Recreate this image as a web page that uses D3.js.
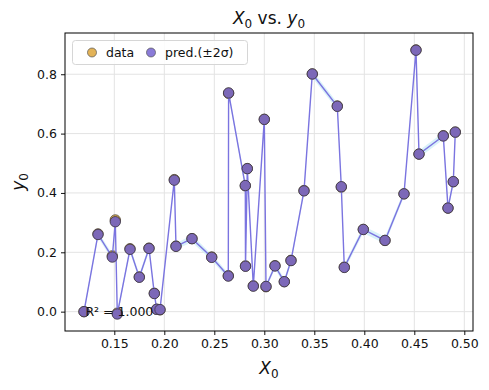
<!DOCTYPE html>
<html><head><meta charset="utf-8">
<script src="https://cdn.jsdelivr.net/npm/d3@7"></script>
<style>body{margin:0;background:#fff}svg{display:block;font-family:"DejaVu Sans",sans-serif}</style>
</head><body><svg id="c" width="489" height="390"></svg>
<script>
const xVals = [0.1197,0.1337,0.1480,0.1510,0.1530,0.1657,0.1750,0.1847,0.1900,0.1924,0.1957,0.2100,0.2117,0.2277,0.2474,0.2640,0.2643,0.2810,0.2812,0.2830,0.2890,0.3000,0.3017,0.3107,0.3200,0.3267,0.3397,0.3480,0.3730,0.3770,0.3800,0.3990,0.4207,0.4397,0.4517,0.4547,0.4790,0.4837,0.4890,0.4910];
const dataY = [0.000,0.262,0.188,0.309,-0.005,0.212,0.117,0.214,0.062,0.008,0.006,0.445,0.221,0.246,0.184,0.121,0.736,0.424,0.154,0.482,0.087,0.648,0.084,0.155,0.101,0.173,0.408,0.801,0.693,0.420,0.150,0.277,0.240,0.397,0.882,0.531,0.593,0.349,0.438,0.605];
const predY = [0.000,0.260,0.184,0.303,-0.008,0.210,0.116,0.213,0.061,0.008,0.007,0.443,0.220,0.246,0.183,0.120,0.737,0.425,0.153,0.482,0.086,0.648,0.085,0.154,0.101,0.172,0.407,0.801,0.692,0.421,0.149,0.277,0.240,0.397,0.881,0.531,0.592,0.349,0.438,0.605];
const predSigma = [0.004,0.005,0.005,0.005,0.005,0.005,0.005,0.005,0.004,0.004,0.004,0.005,0.005,0.006,0.005,0.005,0.005,0.005,0.005,0.005,0.004,0.005,0.004,0.005,0.005,0.005,0.005,0.006,0.006,0.005,0.005,0.006,0.006,0.005,0.005,0.006,0.006,0.005,0.005,0.005];
const xTicks = [0.15,0.20,0.25,0.30,0.35,0.40,0.45,0.50];
const yTicks = [0.0,0.2,0.4,0.6,0.8];
const r2Text = "R\u00B2 = 1.000";

const L=65,R=473,T=33,B=331;
const svg=d3.select("#c");
const x=d3.scaleLinear().domain([0.1007,0.5087]).range([L,R]);
const y=d3.scaleLinear().domain([-0.0652,0.9390]).range([B,T]);
const pts=xVals.map((v,i)=>({x:v,d:dataY[i],p:predY[i],s:predSigma[i]}));

// grid
const g=svg.append("g");
g.selectAll(".gx").data(xTicks).join("line").attr("x1",d=>x(d)).attr("x2",d=>x(d)).attr("y1",T).attr("y2",B).attr("stroke","#e3e3e3").attr("stroke-width",1);
g.selectAll(".gy").data(yTicks).join("line").attr("y1",d=>y(d)).attr("y2",d=>y(d)).attr("x1",L).attr("x2",R).attr("stroke","#e3e3e3").attr("stroke-width",1);

// band
svg.append("path").datum(pts).attr("d",d3.area().x(d=>x(d.x)).y0(d=>y(d.p-2*d.s)).y1(d=>y(d.p+2*d.s))).attr("fill","#cfeef8").attr("opacity",0.8);
// data points
svg.append("g").selectAll("circle").data(pts).join("circle").attr("cx",d=>x(d.x)).attr("cy",d=>y(d.d)).attr("r",5.2).attr("fill","#dcae52").attr("stroke","#4a4030").attr("stroke-width",0.8);
// pred line
svg.append("path").datum(pts).attr("d",d3.line().x(d=>x(d.x)).y(d=>y(d.p))).attr("fill","none").attr("stroke","#7b74e0").attr("stroke-width",1.4);
// pred points
svg.append("g").selectAll("circle").data(pts).join("circle").attr("cx",d=>x(d.x)).attr("cy",d=>y(d.p)).attr("r",5.2).attr("fill","#7c68b8").attr("stroke","#3a3340").attr("stroke-width",0.8);

// axes
const ax=svg.append("g").attr("transform",`translate(0,${B})`).call(d3.axisBottom(x).tickValues(xTicks).tickFormat(d3.format(".2f")).tickSize(4).tickPadding(4));
const ay=svg.append("g").attr("transform",`translate(${L},0)`).call(d3.axisLeft(y).tickValues(yTicks).tickFormat(d3.format(".1f")).tickSize(4).tickPadding(4));
[ax,ay].forEach(a=>{a.select(".domain").remove();a.selectAll("text").attr("font-size","12.5px").attr("fill","#111").attr("font-family","DejaVu Sans");a.selectAll("line").attr("stroke","#111");});
svg.append("rect").attr("x",L).attr("y",T).attr("width",R-L).attr("height",B-T).attr("fill","none").attr("stroke","#000").attr("stroke-width",1);

// R2 text
svg.append("text").attr("x",L+0.05*(R-L)).attr("y",B-0.05*(B-T)).attr("font-size","12.5px").attr("fill","#111").text(r2Text);

// title
const t=svg.append("text").attr("x",(L+R)/2).attr("y",24).attr("text-anchor","middle").attr("font-size","17px").attr("fill","#111");
t.append("tspan").attr("font-style","italic").text("X");
t.append("tspan").attr("font-size","12px").attr("dy",4).text("0");
t.append("tspan").attr("dy",-4).text(" vs. ");
t.append("tspan").attr("font-style","italic").text("y");
t.append("tspan").attr("font-size","12px").attr("dy",4).text("0");

// x label
const xl=svg.append("text").attr("x",(L+R)/2).attr("y",374).attr("text-anchor","middle").attr("font-size","17px").attr("fill","#111");
xl.append("tspan").attr("font-style","italic").text("X");
xl.append("tspan").attr("font-size","12px").attr("dy",4).text("0");
// y label
const yl=svg.append("text").attr("transform",`translate(24,${(T+B)/2}) rotate(-90)`).attr("text-anchor","middle").attr("font-size","17px").attr("fill","#111");
yl.append("tspan").attr("font-style","italic").text("y");
yl.append("tspan").attr("font-size","12px").attr("dy",4).text("0");

// legend
const lg=svg.append("g");
lg.append("rect").attr("x",72.5).attr("y",40.5).attr("width",175).attr("height",24).attr("rx",3).attr("fill","#fff").attr("fill-opacity",0.85).attr("stroke","#d6d6d6");
const items=[{label:"data",c:"#e3b358",x:92},{label:"pred.(\u00B12\u03C3)",c:"#8a7bd8",x:151}];
items.forEach(it=>{
  lg.append("circle").attr("cx",it.x).attr("cy",52.5).attr("r",4.5).attr("fill",it.c).attr("stroke","#555").attr("stroke-width",0.7);
  lg.append("text").attr("x",it.x+14).attr("y",57).attr("font-size","12.5px").attr("fill","#111").text(it.label);
});
</script></body></html>
